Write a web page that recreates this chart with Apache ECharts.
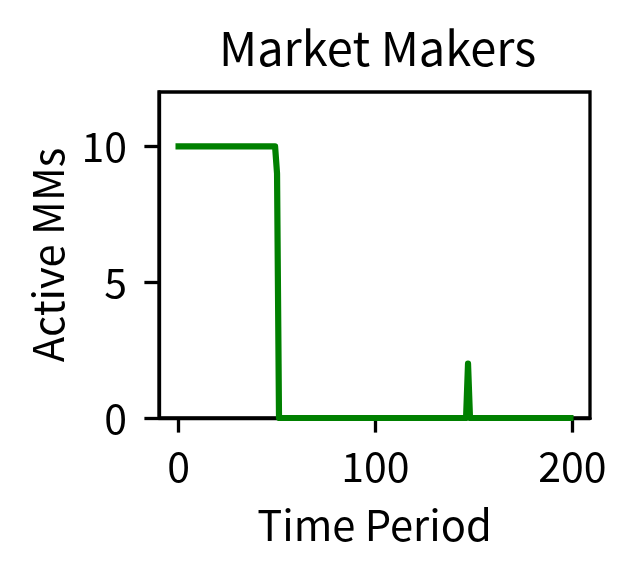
<!DOCTYPE html>
<html lang="en">
<head>
  <meta charset="UTF-8" />
  <title>Market Makers</title>
  <script src="https://cdn.jsdelivr.net/npm/echarts@6/dist/echarts.min.js"></script>
  <style>
    html, body { margin: 0; padding: 0; background: #fff; }
    #chart { width: 633px; height: 574px; }
  </style>
</head>
<body>
  <div id="chart"></div>
  <script>
    // breakpoints of the step curve (flat between them)
    const timePoints = [0, 49, 50, 51, 146, 147, 148, 199];
    const activeMMs  = [10, 10, 9, 0, 0, 2, 0, 0];
    const xTicks = [0, 100, 200];
    const yTicks = [0, 5, 10];

    const font = "'Noto Sans CJK SC', 'Noto Sans', sans-serif";
    const chart = echarts.init(document.getElementById("chart"));

    chart.setOption({
      animation: false,
      title: {
        text: "Market Makers",
        left: 219,
        top: 25,
        padding: 0,
        textStyle: { fontFamily: font, fontSize: 47, fontWeight: "normal", color: "#000" },
      },
      grid: {
        left: 159,
        right: 43,
        top: 92,
        bottom: 156,
        show: true,
        borderColor: "#000",
        borderWidth: 3.3,
      },
      xAxis: {
        type: "value",
        min: -9.95,
        max: 208.95,
        name: "Time Period",
        nameLocation: "middle",
        nameGap: 86,
        nameTextStyle: { fontFamily: font, fontSize: 41.7, color: "#000" },
        axisLine: { show: true, onZero: false, lineStyle: { color: "#000", width: 3.3 } },
        axisTick: { show: true, inside: false, length: 14.6, customValues: xTicks, lineStyle: { color: "#000", width: 3.3 } },
        axisLabel: { customValues: xTicks, margin: 28, fontFamily: font, fontSize: 41, color: "#000" },
        splitLine: { show: false },
      },
      yAxis: {
        type: "value",
        min: 0,
        max: 12,
        name: "Active MMs",
        nameLocation: "middle",
        nameRotate: 90,
        nameGap: 90,
        nameTextStyle: { fontFamily: font, fontSize: 41.7, color: "#000" },
        axisLine: { show: true, onZero: false, lineStyle: { color: "#000", width: 3.3 } },
        axisTick: { show: true, inside: false, length: 14.6, customValues: yTicks, lineStyle: { color: "#000", width: 3.3 } },
        axisLabel: { customValues: yTicks, margin: 32, fontFamily: font, fontSize: 41, color: "#000" },
        splitLine: { show: false },
      },
      series: [
        {
          type: "line",
          data: timePoints.map((t, i) => [t, activeMMs[i]]),
          symbol: "none",
          lineStyle: { color: "#008000", width: 6.2, cap: "square", join: "round" },
        },
      ],
    });
  </script>
</body>
</html>
